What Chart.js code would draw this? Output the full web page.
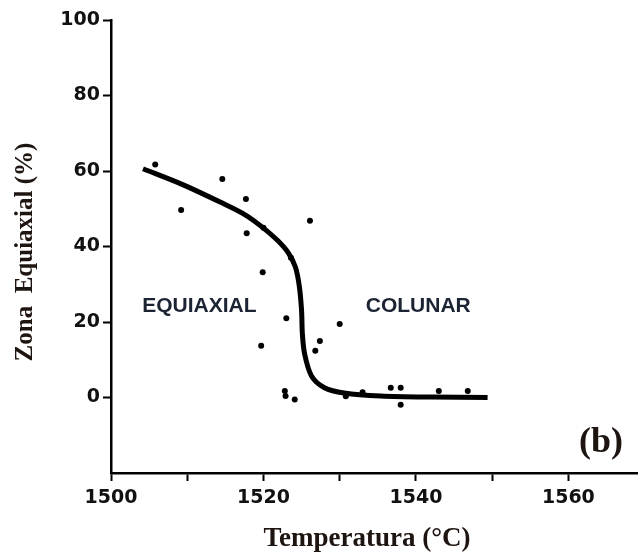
<!DOCTYPE html>
<html>
<head>
<meta charset="utf-8">
<script src="https://cdn.jsdelivr.net/npm/chart.js@4/dist/chart.umd.min.js"></script>
<style>
  html, body { margin: 0; padding: 0; background: #fff; }
  canvas { display: block; }
</style>
</head>
<body>
<canvas id="zonaChart" width="641" height="554"></canvas>
<script>
// fitted curve
const curveTemp = [1504.2, 1509.4, 1514.6, 1517.6, 1519.8, 1521.9, 1523.3, 1524.2, 1524.7, 1525.0, 1525.1, 1525.4, 1526.3, 1528.0, 1530.6, 1535.4, 1542.0, 1549.4];
const curveZona = [60.6, 56.4, 51.5, 48.4, 45.2, 41.5, 38.2, 34.5, 29.5, 23.0, 17.0, 11.5, 5.7, 2.6, 1.2, 0.4, 0.1, 0.0];

// measured points
const pointTemp = [1505.8, 1509.2, 1514.6, 1517.7, 1517.8, 1519.9, 1519.7, 1520.0, 1523.6, 1523.0, 1522.8, 1522.9, 1524.1, 1526.1, 1526.8, 1527.4, 1530.0, 1530.8, 1533.0, 1536.7, 1538.0, 1538.0, 1543.0, 1546.8];
const pointZona = [61.7, 49.7, 57.9, 52.6, 43.5, 33.2, 13.7, 45.0, 37.0, 21.0, 1.7, 0.4, -0.5, 46.8, 12.4, 15.0, 19.5, 0.3, 1.4, 2.6, 2.6, -1.9, 1.7, 1.7];

const xTicksLabeled = [1500, 1520, 1540, 1560];
const yTicksLabeled = [0, 20, 40, 60, 80, 100];

const regionLabels = [
  { text: 'EQUIAXIAL', x: 1511.6, y: 24.2 },
  { text: 'COLUNAR', x: 1540.3, y: 24.2 }
];

const tickFont = { family: 'DejaVu Sans', size: 19, weight: 'bold' };

const textPlugin = {
  id: 'texts',
  afterDraw(chart) {
    const ctx = chart.ctx;
    const xs = chart.scales.x, ys = chart.scales.y;
    ctx.save();
    ctx.textAlign = 'center';
    ctx.textBaseline = 'middle';

    ctx.fillStyle = '#1c2333';
    ctx.font = 'bold 21px "Liberation Sans"';
    regionLabels.forEach(l => {
      ctx.fillText(l.text, xs.getPixelForValue(l.x), ys.getPixelForValue(l.y));
    });

    ctx.fillStyle = '#1e1410';
    ctx.font = 'bold 27px "Liberation Serif"';
    ctx.textBaseline = 'alphabetic';
    ctx.fillText('Temperatura (°C)', 367, 546);

    ctx.save();
    ctx.translate(32, 252);
    ctx.rotate(-Math.PI / 2);
    ctx.font = 'bold 25px "Liberation Serif"';
    ctx.fillText('Zona  Equiaxial (%)', 0, 0);
    ctx.restore();

    ctx.font = 'bold 36px "Liberation Serif"';
    ctx.textBaseline = 'middle';
    ctx.fillText('(b)', 601, 443);
    ctx.restore();
  }
};

new Chart(document.getElementById('zonaChart'), {
  type: 'scatter',
  data: {
    datasets: [{
      label: 'ajuste',
      data: curveTemp.map((t, i) => ({ x: t, y: curveZona[i] })),
      showLine: true,
      borderColor: '#000',
      borderWidth: 5,
      pointRadius: 0,
      tension: 0.3
    }, {
      label: 'medidas',
      data: pointTemp.map((t, i) => ({ x: t, y: pointZona[i] })),
      pointRadius: 3,
      pointBackgroundColor: '#000',
      pointBorderWidth: 0,
      showLine: false
    }]
  },
  options: {
    responsive: false,
    animation: false,
    layout: { padding: { top: 20, right: 0, left: 0, bottom: 0 } },
    plugins: { legend: { display: false }, tooltip: { enabled: false } },
    scales: {
      x: {
        type: 'linear',
        min: 1500,
        max: 1569,
        afterFit: s => { s.height = 81; },
        border: { color: '#000', width: 2.5 },
        grid: { drawOnChartArea: false, tickLength: 8, tickColor: '#000', tickWidth: 2 },
        ticks: {
          stepSize: 10,
          includeBounds: false,
          autoSkip: false,
          maxRotation: 0,
          padding: 6,
          color: '#111',
          font: tickFont,
          callback: v => xTicksLabeled.includes(v) ? String(v) : ''
        }
      },
      y: {
        min: -20,
        max: 100,
        afterFit: s => { s.width = 111; },
        border: { color: '#000', width: 2.5 },
        grid: { drawOnChartArea: false, tickLength: 8, tickColor: '#000', tickWidth: 2 },
        ticks: {
          stepSize: 20,
          padding: 3,
          color: '#111',
          font: tickFont,
          callback: v => yTicksLabeled.includes(v) ? String(v) : null
        }
      }
    }
  },
  plugins: [textPlugin]
});
</script>
</body>
</html>
